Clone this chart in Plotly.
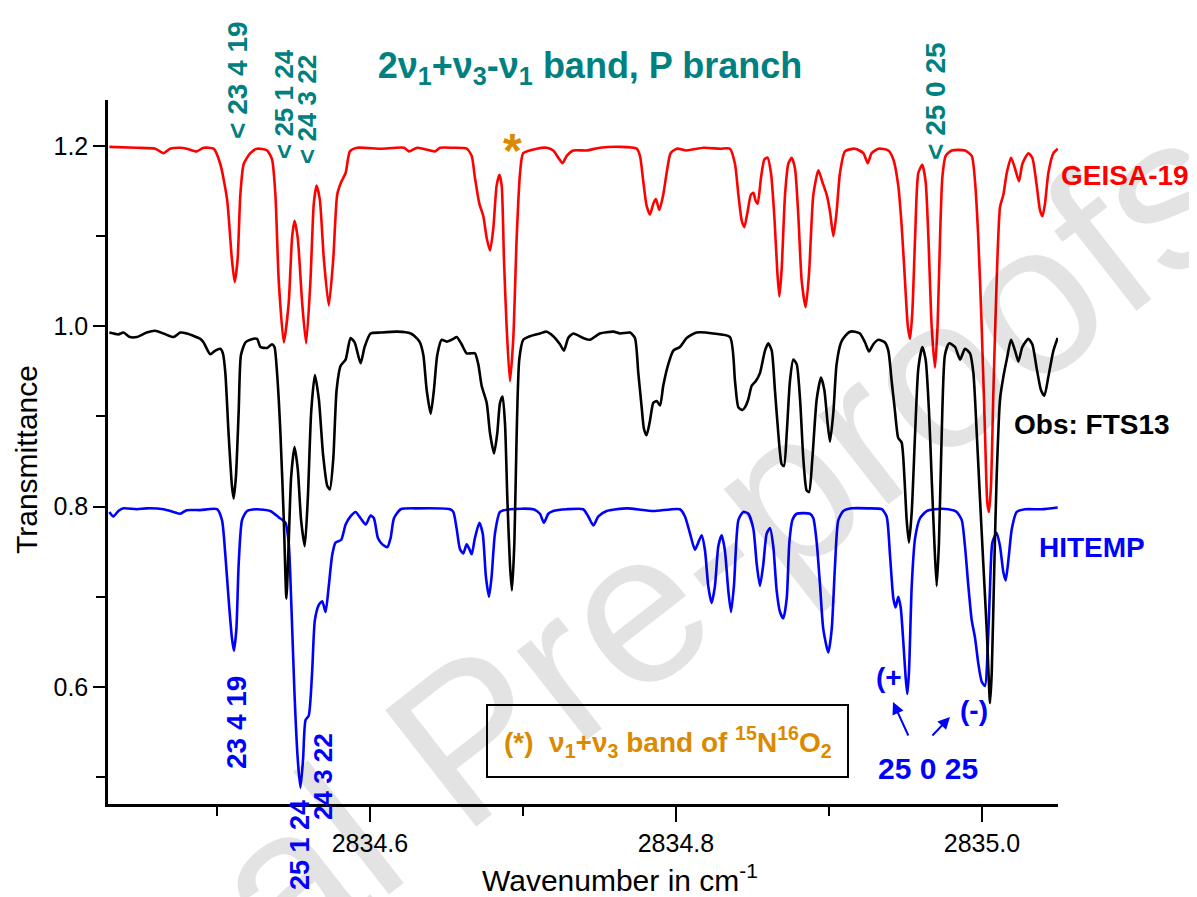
import plotly.graph_objects as go

# ---------------- data ----------------
geisa_wn = [2834.4297, 2834.4476, 2834.4596, 2834.4651, 2834.4694, 2834.4760, 2834.4803, 2834.4867, 2834.4913,
            2834.4978, 2834.5022, 2834.5066, 2834.5098, 2834.5116, 2834.5135, 2834.5153, 2834.5175, 2834.5218,
            2834.5262, 2834.5328, 2834.5360, 2834.5382, 2834.5404, 2834.5437, 2834.5469, 2834.5491, 2834.5507,
            2834.5528, 2834.5557, 2834.5583, 2834.5611, 2834.5633, 2834.5651, 2834.5672, 2834.5699, 2834.5731,
            2834.5760, 2834.5786, 2834.5812, 2834.5841, 2834.5869, 2834.5917, 2834.6070, 2834.6223, 2834.6255,
            2834.6310, 2834.6425, 2834.6458, 2834.6545, 2834.6632, 2834.6665, 2834.6686, 2834.6715, 2834.6741,
            2834.6763, 2834.6785, 2834.6806, 2834.6828, 2834.6846, 2834.6861, 2834.6876, 2834.6893, 2834.6915,
            2834.6937, 2834.6959, 2834.6981, 2834.7002, 2834.7090, 2834.7155, 2834.7198, 2834.7231, 2834.7259,
            2834.7286, 2834.7329, 2834.7416, 2834.7503, 2834.7634, 2834.7743, 2834.7765, 2834.7787, 2834.7808,
            2834.7830, 2834.7852, 2834.7869, 2834.7891, 2834.7917, 2834.7939, 2834.7965, 2834.8005, 2834.8070,
            2834.8179, 2834.8288, 2834.8353, 2834.8386, 2834.8408, 2834.8430, 2834.8447, 2834.8468, 2834.8490,
            2834.8506, 2834.8521, 2834.8534, 2834.8556, 2834.8578, 2834.8599, 2834.8621, 2834.8643, 2834.8663,
            2834.8676, 2834.8691, 2834.8713, 2834.8734, 2834.8756, 2834.8778, 2834.8800, 2834.8822, 2834.8848,
            2834.8870, 2834.8898, 2834.8931, 2834.8957, 2834.8985, 2834.9007, 2834.9029, 2834.9050, 2834.9072,
            2834.9105, 2834.9170, 2834.9225, 2834.9253, 2834.9279, 2834.9323, 2834.9388, 2834.9421, 2834.9453,
            2834.9475, 2834.9497, 2834.9515, 2834.9530, 2834.9545, 2834.9563, 2834.9584, 2834.9610, 2834.9632,
            2834.9650, 2834.9671, 2834.9693, 2834.9710, 2834.9726, 2834.9741, 2834.9763, 2834.9802, 2834.9889,
            2834.9933, 2834.9955, 2834.9976, 2834.9998, 2835.0020, 2835.0035, 2835.0046, 2835.0059, 2835.0075,
            2835.0096, 2835.0118, 2835.0140, 2835.0162, 2835.0190, 2835.0216, 2835.0242, 2835.0264, 2835.0303,
            2835.0329, 2835.0358, 2835.0379, 2835.0395, 2835.0412, 2835.0434, 2835.0467, 2835.0495]
geisa_t = [1.199, 1.198, 1.197, 1.192, 1.197, 1.198, 1.197, 1.194, 1.198,
           1.197, 1.180, 1.141, 1.074, 1.049, 1.074, 1.146, 1.180, 1.192,
           1.197, 1.195, 1.185, 1.146, 1.050, 0.982, 1.026, 1.098, 1.117,
           1.098, 1.026, 0.981, 1.050, 1.136, 1.156, 1.141, 1.074, 1.023,
           1.074, 1.146, 1.160, 1.170, 1.194, 1.198, 1.197, 1.198, 1.194,
           1.198, 1.194, 1.198, 1.198, 1.197, 1.189, 1.165, 1.136, 1.122,
           1.098, 1.084, 1.108, 1.156, 1.168, 1.156, 1.074, 1.001, 0.939,
           0.987, 1.098, 1.170, 1.192, 1.197, 1.198, 1.195, 1.187, 1.181,
           1.189, 1.195, 1.195, 1.198, 1.199, 1.197, 1.189, 1.160, 1.134,
           1.124, 1.136, 1.141, 1.129, 1.146, 1.170, 1.192, 1.197, 1.195,
           1.198, 1.197, 1.197, 1.180, 1.146, 1.117, 1.110, 1.127, 1.146,
           1.148, 1.139, 1.136, 1.165, 1.185, 1.187, 1.170, 1.122, 1.059,
           1.033, 1.064, 1.146, 1.180, 1.187, 1.175, 1.122, 1.050, 1.021,
           1.059, 1.146, 1.173, 1.160, 1.146, 1.127, 1.100, 1.127, 1.170,
           1.194, 1.197, 1.192, 1.181, 1.192, 1.197, 1.195, 1.185, 1.156,
           1.112, 1.050, 1.001, 0.986, 1.016, 1.098, 1.170, 1.179, 1.160,
           1.098, 1.001, 0.954, 1.001, 1.098, 1.165, 1.189, 1.195, 1.195,
           1.189, 1.160, 1.098, 1.001, 0.881, 0.804, 0.794, 0.823, 0.929,
           1.050, 1.132, 1.146, 1.170, 1.187, 1.175, 1.161, 1.180, 1.192,
           1.187, 1.156, 1.129, 1.122, 1.136, 1.170, 1.192, 1.197]

obs_wn = [2834.4297, 2834.4356, 2834.4389, 2834.4432, 2834.4476, 2834.4541, 2834.4596, 2834.4651, 2834.4716,
          2834.4760, 2834.4803, 2834.4891, 2834.4913, 2834.4956, 2834.4989, 2834.5022, 2834.5039, 2834.5055,
          2834.5076, 2834.5098, 2834.5109, 2834.5124, 2834.5142, 2834.5157, 2834.5186, 2834.5218, 2834.5262,
          2834.5284, 2834.5328, 2834.5360, 2834.5376, 2834.5393, 2834.5415, 2834.5437, 2834.5454, 2834.5469,
          2834.5485, 2834.5507, 2834.5528, 2834.5550, 2834.5574, 2834.5594, 2834.5616, 2834.5640, 2834.5666,
          2834.5694, 2834.5721, 2834.5738, 2834.5760, 2834.5782, 2834.5808, 2834.5841, 2834.5873, 2834.5900,
          2834.5939, 2834.5965, 2834.6004, 2834.6070, 2834.6179, 2834.6266, 2834.6310, 2834.6327, 2834.6349,
          2834.6371, 2834.6397, 2834.6418, 2834.6440, 2834.6469, 2834.6501, 2834.6545, 2834.6567, 2834.6599,
          2834.6632, 2834.6665, 2834.6686, 2834.6708, 2834.6730, 2834.6763, 2834.6785, 2834.6811, 2834.6832,
          2834.6850, 2834.6867, 2834.6883, 2834.6898, 2834.6915, 2834.6928, 2834.6944, 2834.6959, 2834.6976,
          2834.7002, 2834.7046, 2834.7111, 2834.7155, 2834.7198, 2834.7242, 2834.7268, 2834.7296, 2834.7329,
          2834.7394, 2834.7438, 2834.7503, 2834.7591, 2834.7634, 2834.7700, 2834.7732, 2834.7754, 2834.7776,
          2834.7791, 2834.7808, 2834.7830, 2834.7852, 2834.7874, 2834.7896, 2834.7917, 2834.7950, 2834.7983,
          2834.8026, 2834.8070, 2834.8135, 2834.8244, 2834.8353, 2834.8386, 2834.8408, 2834.8434, 2834.8451,
          2834.8473, 2834.8495, 2834.8521, 2834.8549, 2834.8582, 2834.8604, 2834.8626, 2834.8647, 2834.8669,
          2834.8691, 2834.8706, 2834.8724, 2834.8745, 2834.8767, 2834.8789, 2834.8811, 2834.8833, 2834.8854,
          2834.8870, 2834.8891, 2834.8920, 2834.8948, 2834.8970, 2834.8992, 2834.9007, 2834.9029, 2834.9050,
          2834.9079, 2834.9105, 2834.9138, 2834.9170, 2834.9203, 2834.9236, 2834.9262, 2834.9290, 2834.9323,
          2834.9366, 2834.9388, 2834.9410, 2834.9432, 2834.9453, 2834.9475, 2834.9493, 2834.9508, 2834.9523,
          2834.9541, 2834.9563, 2834.9584, 2834.9610, 2834.9632, 2834.9654, 2834.9671, 2834.9689, 2834.9704,
          2834.9719, 2834.9737, 2834.9758, 2834.9785, 2834.9824, 2834.9857, 2834.9889, 2834.9922, 2834.9944,
          2834.9966, 2834.9987, 2835.0009, 2835.0031, 2835.0053, 2835.0064, 2835.0081, 2835.0096, 2835.0118,
          2835.0140, 2835.0162, 2835.0190, 2835.0216, 2835.0238, 2835.0264, 2835.0303, 2835.0329, 2835.0358,
          2835.0386, 2835.0408, 2835.0434, 2835.0467, 2835.0495]
obs_t = [0.993, 0.991, 0.993, 0.988, 0.988, 0.993, 0.995, 0.992, 0.988,
         0.993, 0.992, 0.986, 0.982, 0.969, 0.973, 0.975, 0.970, 0.948,
         0.881, 0.823, 0.809, 0.833, 0.905, 0.968, 0.982, 0.985, 0.986,
         0.977, 0.976, 0.980, 0.977, 0.948, 0.881, 0.785, 0.698, 0.760,
         0.833, 0.866, 0.842, 0.785, 0.756, 0.809, 0.905, 0.946, 0.919,
         0.857, 0.823, 0.819, 0.852, 0.929, 0.956, 0.963, 0.987, 0.982,
         0.959, 0.977, 0.992, 0.993, 0.994, 0.992, 0.986, 0.982, 0.968,
         0.929, 0.903, 0.929, 0.968, 0.985, 0.983, 0.986, 0.988, 0.980,
         0.970, 0.970, 0.970, 0.958, 0.934, 0.915, 0.881, 0.859, 0.881,
         0.915, 0.922, 0.891, 0.809, 0.736, 0.707, 0.760, 0.881, 0.963,
         0.985, 0.989, 0.992, 0.994, 0.989, 0.980, 0.973, 0.987, 0.992,
         0.987, 0.985, 0.992, 0.994, 0.992, 0.993, 0.987, 0.948, 0.910,
         0.886, 0.879, 0.895, 0.915, 0.917, 0.912, 0.934, 0.958, 0.973,
         0.977, 0.987, 0.993, 0.992, 0.988, 0.939, 0.910, 0.907, 0.910,
         0.919, 0.934, 0.939, 0.948, 0.973, 0.981, 0.973, 0.929, 0.881,
         0.847, 0.845, 0.881, 0.939, 0.963, 0.958, 0.919, 0.852, 0.818,
         0.816, 0.852, 0.919, 0.943, 0.929, 0.891, 0.872, 0.905, 0.958,
         0.982, 0.989, 0.994, 0.994, 0.992, 0.982, 0.972, 0.980, 0.985,
         0.982, 0.973, 0.939, 0.905, 0.876, 0.871, 0.833, 0.785, 0.760,
         0.794, 0.881, 0.953, 0.977, 0.963, 0.905, 0.833, 0.760, 0.712,
         0.760, 0.881, 0.968, 0.981, 0.977, 0.963, 0.975, 0.970, 0.948,
         0.881, 0.809, 0.736, 0.664, 0.582, 0.616, 0.736, 0.833, 0.919,
         0.944, 0.963, 0.985, 0.973, 0.961, 0.977, 0.986, 0.980, 0.953,
         0.929, 0.923, 0.944, 0.973, 0.987]

hitemp_wn = [2834.4297, 2834.4323, 2834.4356, 2834.4389, 2834.4476, 2834.4541, 2834.4651, 2834.4716, 2834.4760,
             2834.4803, 2834.4891, 2834.5000, 2834.5033, 2834.5055, 2834.5076, 2834.5098, 2834.5111, 2834.5127,
             2834.5142, 2834.5164, 2834.5197, 2834.5262, 2834.5349, 2834.5404, 2834.5448, 2834.5469, 2834.5487,
             2834.5507, 2834.5528, 2834.5546, 2834.5563, 2834.5579, 2834.5600, 2834.5622, 2834.5640, 2834.5666,
             2834.5688, 2834.5710, 2834.5731, 2834.5753, 2834.5775, 2834.5812, 2834.5841, 2834.5873, 2834.5906,
             2834.5939, 2834.5972, 2834.6004, 2834.6026, 2834.6052, 2834.6081, 2834.6114, 2834.6135, 2834.6157,
             2834.6201, 2834.6310, 2834.6523, 2834.6545, 2834.6567, 2834.6588, 2834.6610, 2834.6632, 2834.6649,
             2834.6665, 2834.6686, 2834.6715, 2834.6737, 2834.6758, 2834.6778, 2834.6795, 2834.6817, 2834.6850,
             2834.6915, 2834.7068, 2834.7111, 2834.7137, 2834.7166, 2834.7198, 2834.7286, 2834.7394, 2834.7427,
             2834.7460, 2834.7493, 2834.7547, 2834.7678, 2834.7852, 2834.8026, 2834.8059, 2834.8092, 2834.8124,
             2834.8146, 2834.8168, 2834.8190, 2834.8211, 2834.8233, 2834.8255, 2834.8277, 2834.8299, 2834.8320,
             2834.8342, 2834.8360, 2834.8379, 2834.8408, 2834.8440, 2834.8473, 2834.8506, 2834.8528, 2834.8549,
             2834.8571, 2834.8593, 2834.8615, 2834.8636, 2834.8658, 2834.8680, 2834.8702, 2834.8724, 2834.8741,
             2834.8761, 2834.8789, 2834.8876, 2834.8898, 2834.8920, 2834.8942, 2834.8963, 2834.8996, 2834.9018,
             2834.9040, 2834.9061, 2834.9094, 2834.9149, 2834.9257, 2834.9345, 2834.9377, 2834.9399, 2834.9421,
             2834.9436, 2834.9453, 2834.9469, 2834.9486, 2834.9501, 2834.9512, 2834.9523, 2834.9541, 2834.9563,
             2834.9595, 2834.9639, 2834.9693, 2834.9780, 2834.9835, 2834.9868, 2834.9889, 2834.9911, 2834.9933,
             2834.9955, 2834.9976, 2834.9998, 2835.0020, 2835.0037, 2835.0053, 2835.0068, 2835.0096, 2835.0118,
             2835.0140, 2835.0155, 2835.0173, 2835.0195, 2835.0227, 2835.0281, 2835.0391, 2835.0495]
hitemp_t = [0.794, 0.789, 0.795, 0.798, 0.797, 0.798, 0.797, 0.794, 0.792,
            0.796, 0.796, 0.797, 0.785, 0.746, 0.698, 0.654, 0.640, 0.664,
            0.736, 0.785, 0.795, 0.797, 0.795, 0.788, 0.782, 0.760, 0.688,
            0.592, 0.520, 0.488, 0.520, 0.563, 0.568, 0.616, 0.674, 0.691,
            0.695, 0.683, 0.712, 0.746, 0.760, 0.763, 0.780, 0.789, 0.794,
            0.787, 0.780, 0.790, 0.787, 0.765, 0.758, 0.755, 0.765, 0.787,
            0.797, 0.798, 0.797, 0.794, 0.775, 0.753, 0.748, 0.758, 0.753,
            0.747, 0.765, 0.782, 0.770, 0.722, 0.700, 0.722, 0.770, 0.794,
            0.797, 0.797, 0.792, 0.782, 0.792, 0.795, 0.797, 0.797, 0.789,
            0.779, 0.789, 0.795, 0.798, 0.795, 0.797, 0.789, 0.770, 0.752,
            0.760, 0.768, 0.751, 0.712, 0.693, 0.712, 0.756, 0.768, 0.751,
            0.707, 0.683, 0.712, 0.785, 0.794, 0.792, 0.775, 0.736, 0.712,
            0.736, 0.770, 0.776, 0.756, 0.707, 0.683, 0.676, 0.698, 0.760,
            0.785, 0.792, 0.792, 0.787, 0.760, 0.712, 0.664, 0.638, 0.664,
            0.736, 0.785, 0.795, 0.798, 0.798, 0.797, 0.789, 0.746, 0.698,
            0.688, 0.700, 0.688, 0.650, 0.611, 0.592, 0.616, 0.712, 0.765,
            0.787, 0.795, 0.797, 0.797, 0.794, 0.785, 0.756, 0.712, 0.674,
            0.654, 0.626, 0.606, 0.601, 0.640, 0.712, 0.760, 0.771, 0.756,
            0.727, 0.718, 0.741, 0.775, 0.794, 0.797, 0.797, 0.799]

series_names = ["HITEMP", "Obs: FTS13", "GEISA-19"]
x_tick_vals = [2834.6, 2834.8, 2835.0]
x_minor_vals = [2834.5, 2834.7, 2834.9]
y_tick_vals = [0.6, 0.8, 1.0, 1.2]
y_minor_vals = [0.5, 0.7, 0.9, 1.1]

# ---------------- figure ----------------
FONT = "Liberation Sans, Arial, sans-serif"
TEAL = "#008080"
ORANGE = "#DB8A00"
BLUE = "#0000FF"

OFF = 8  # default body margin of the html page
W, H = 1197 - OFF, 897 - OFF
PLOT_X0, PLOT_X1, PLOT_Y0, PLOT_Y1 = 108, 1058, 100, 804  # plot area in page pixels
L, R = PLOT_X0 - OFF, OFF + W - PLOT_X1
T, B = PLOT_Y0 - OFF, OFF + H - PLOT_Y1
PW, PH = PLOT_X1 - PLOT_X0, PLOT_Y1 - PLOT_Y0


def px(x):
    return (x - PLOT_X0) / PW


def py(y):
    return (PLOT_Y1 - y) / PH


fig = go.Figure()
for wn, tr, name, col in [(hitemp_wn, hitemp_t, series_names[0], BLUE),
                          (obs_wn, obs_t, series_names[1], "#000000"),
                          (geisa_wn, geisa_t, series_names[2], "#FF0000")]:
    fig.add_trace(go.Scatter(x=wn, y=tr, mode="lines", name=name,
                             line=dict(color=col, width=2.6, shape="spline", smoothing=0.6),
                             showlegend=False))

ann = []


def label(text, x, y, color, size, angle=0, weight="bold", xa="center", ya="middle"):
    ann.append(dict(text=text, x=px(x), y=py(y), xref="paper", yref="paper",
                    showarrow=False, textangle=angle, xanchor=xa, yanchor=ya,
                    font=dict(family=FONT, size=size, color=color, weight=weight)))


# watermark
label("Journal Pre-proofs", 510, 705, "rgba(0,0,0,0.11)", 215, angle=-38, weight="normal")

# series labels on the right
label("GEISA-19", 1125, 175, "#FF0000", 28)
label("Obs: FTS13", 1092, 424, "#000000", 28)
label("HITEMP", 1092, 547, BLUE, 28)

# teal assignment labels at top
label("&lt; 23 4 19", 237, 80, TEAL, 28, angle=-90)
label("&lt; 25 1 24", 284, 104, TEAL, 26, angle=-90)
label("&lt; 24 3 22", 307, 110, TEAL, 26, angle=-90)
label("&lt; 25 0 25", 935, 101, TEAL, 28, angle=-90)

# orange star
label("*", 512, 150, ORANGE, 48)

# blue assignment labels at bottom
label("23 4 19", 236, 723, BLUE, 28, angle=-90)
label("25 1 24", 300, 845, BLUE, 27, angle=-90)
label("24 3 22", 323, 777, BLUE, 26, angle=-90)
label("(+", 889, 677, BLUE, 28)
label("(-)", 974, 710, BLUE, 28)
label("25 0 25", 928, 768, BLUE, 30)

# arrows
for hx, hy, tx, ty in [(893, 702, 909, 737), (950, 717, 931, 737)]:
    ann.append(dict(x=px(hx), y=py(hy), xref="paper", yref="paper", text="",
                    showarrow=True, ax=tx - hx, ay=ty - hy, arrowhead=2, arrowsize=1.2,
                    arrowwidth=2, arrowcolor=BLUE))

# box text
label("(*)  ν<sub>1</sub>+ν<sub>3</sub> band of <sup>15</sup>N<sup>16</sup>O<sub>2</sub>",
      668, 742, ORANGE, 28)

# axis titles
label("Wavenumber in cm<sup>-1</sup>", 620, 878, "#000000", 30, weight="normal")
label("Transmittance", 26, 460, "#000000", 30, angle=-90, weight="normal")

fig.update_layout(
    width=W, height=H,
    margin=dict(l=L, r=R, t=T, b=B, pad=0),
    paper_bgcolor="white", plot_bgcolor="white",
    title=dict(text="2ν<sub>1</sub>+ν<sub>3</sub>-ν<sub>1</sub> band, P branch",
               x=(590 - OFF) / W, y=1 - (65 - OFF) / H, xref="container", yref="container",
               xanchor="center", yanchor="middle",
               font=dict(family=FONT, size=36, color=TEAL, weight="bold")),
    annotations=ann,
    shapes=[dict(type="rect", xref="paper", yref="paper",
                 x0=px(487), x1=px(848), y0=py(777), y1=py(705),
                 line=dict(color="#000000", width=2), fillcolor="rgba(0,0,0,0)")],
    showlegend=False,
)

fig.update_xaxes(range=[2834.4288, 2835.0497], tickvals=x_tick_vals,
                 ticktext=[f"{v:.1f}" for v in x_tick_vals],
                 ticks="outside", ticklen=15, tickwidth=2, tickcolor="black",
                 minor=dict(tickvals=x_minor_vals, ticks="outside", ticklen=9,
                            tickwidth=2, tickcolor="black"),
                 showline=True, linecolor="black", linewidth=2.5, showgrid=False, zeroline=False,
                 tickfont=dict(family=FONT, size=25, color="black"))
fig.update_yaxes(range=[0.47, 1.251], tickvals=y_tick_vals,
                 ticktext=[f"{v:.1f}" for v in y_tick_vals],
                 ticks="outside", ticklen=12, tickwidth=2, tickcolor="black",
                 minor=dict(tickvals=y_minor_vals, ticks="outside", ticklen=9,
                            tickwidth=2, tickcolor="black"),
                 showline=True, linecolor="black", linewidth=2.5, showgrid=False, zeroline=False,
                 tickfont=dict(family=FONT, size=25, color="black"))

fig.write_html("out.html")
